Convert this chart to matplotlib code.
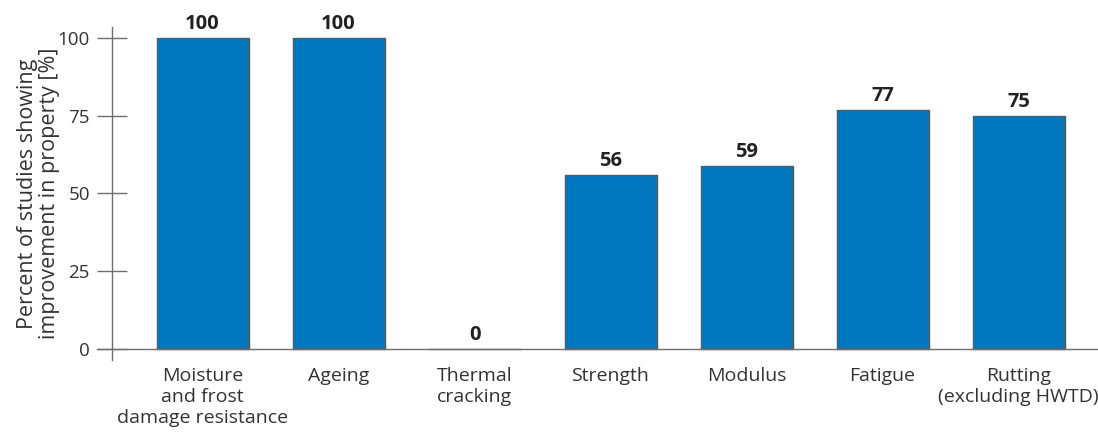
import matplotlib
matplotlib.use("Agg")
import matplotlib.pyplot as plt

plt.rcParams["font.family"] = ["Open Sans", "DejaVu Sans"]

categories = [
    "Moisture\nand frost\ndamage resistance",
    "Ageing",
    "Thermal\ncracking",
    "Strength",
    "Modulus",
    "Fatigue",
    "Rutting\n(excluding HWTD)",
]
percent_improved = [100, 100, 0, 56, 59, 77, 75]
yticks = [0, 25, 50, 75, 100]

BAR = "#0077bf"
EDGE = "#5a5a5a"
AXIS = "#6e6e6e"
TXT = "#333333"

W, H = 1098, 437
fig = plt.figure(figsize=(W / 100, H / 100), dpi=100)
# axes box in pixel terms: y-axis at x=112, zero line at y=349, 100 at y=38
px_per_unit = (349 - 38) / 100
top_px, bot_px = 27, 360
ax = fig.add_axes([112 / W, 1 - bot_px / H, (W - 112) / W, (bot_px - top_px) / H])

x = list(range(len(categories)))
step = 136
ax.set_xlim((112 - 202.5) / step, (W - 202.5) / step)
ax.set_ylim(-(bot_px - 349) / px_per_unit, (349 - top_px) / px_per_unit)

bars = ax.bar(x, percent_improved, width=92 / step, color=BAR,
              edgecolor=EDGE, linewidth=1.0, zorder=2)
for rect, v in zip(bars, percent_improved):
    ax.text(rect.get_x() + rect.get_width() / 2, v + 1.2, f"{v}",
            ha="center", va="bottom", fontsize=14.5, fontweight="bold",
            color="#222222")

# category labels under the zero line
for xi, lab in zip(x, categories):
    ax.text(xi, -5.8, lab, ha="center", va="top", fontsize=14,
            color=TXT, linespacing=1.2, clip_on=False)

# zero line runs a little past the y-axis on the left
ax.axhline(0, xmin=-15 / (W - 112), xmax=1, color=AXIS, lw=1.0,
           clip_on=False, zorder=3)

for s in ["top", "right", "bottom"]:
    ax.spines[s].set_visible(False)
ax.spines["left"].set_color(AXIS)
ax.spines["left"].set_linewidth(1.0)

ax.set_xticks([])
ax.set_yticks(yticks)
ax.tick_params(axis="y", direction="inout", length=22, width=1.0,
               color=AXIS, labelsize=13.5, labelcolor=TXT, pad=5)

ax.set_ylabel("Percent of studies showing\nimprovement in property [%]",
              fontsize=15.5, color=TXT, linespacing=1.1, labelpad=-2)

fig.savefig("out.png", dpi=100)
